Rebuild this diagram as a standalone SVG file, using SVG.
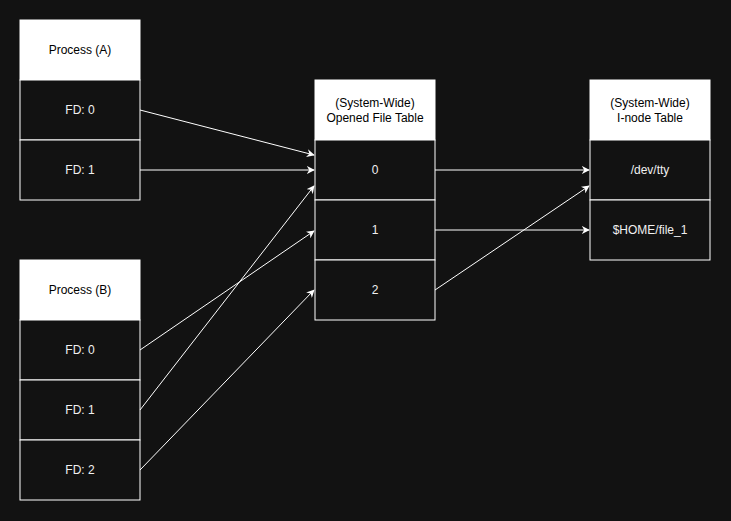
<svg xmlns="http://www.w3.org/2000/svg" width="731" height="521" viewBox="0 0 731 521">
<style>
.h{fill:#ffffff;stroke:#ffffff}
.r{fill:#121212;stroke:#ffffff;stroke-width:1}
.th{font-family:"Liberation Sans",Arial,sans-serif;font-size:12px;fill:#000;text-anchor:middle}
.tr{font-family:"Liberation Sans",Arial,sans-serif;font-size:12px;fill:#f0f0f0;text-anchor:middle}
.c line{stroke:#ffffff;stroke-width:1;marker-end:url(#a)}
</style>
<defs><marker id="a" viewBox="0 0 10 10" refX="9" refY="5" markerWidth="8" markerHeight="8" orient="auto" markerUnits="userSpaceOnUse"><path d="M0,0 L10,5 L0,10 L3,5 Z" fill="#fff"/></marker></defs>
<rect width="731" height="521" fill="#121212"/>
<g id="procA">
<rect class="h" x="20" y="20" width="120" height="60"/><text class="th" x="80" y="54">Process (A)</text>
<rect class="r" x="20" y="80" width="120" height="60"/><text class="tr" x="80" y="114">FD: 0</text>
<rect class="r" x="20" y="140" width="120" height="60"/><text class="tr" x="80" y="174">FD: 1</text>
</g>
<g id="procB">
<rect class="h" x="20" y="260" width="120" height="60"/><text class="th" x="80" y="294">Process (B)</text>
<rect class="r" x="20" y="320" width="120" height="60"/><text class="tr" x="80" y="354">FD: 0</text>
<rect class="r" x="20" y="380" width="120" height="60"/><text class="tr" x="80" y="414">FD: 1</text>
<rect class="r" x="20" y="440" width="120" height="60"/><text class="tr" x="80" y="474">FD: 2</text>
</g>
<g id="oft">
<rect class="h" x="315" y="80" width="120" height="60"/><text class="th" x="375" y="107">(System-Wide)</text><text class="th" x="375" y="122">Opened File Table</text>
<rect class="r" x="315" y="140" width="120" height="60"/><text class="tr" x="375" y="174">0</text>
<rect class="r" x="315" y="200" width="120" height="60"/><text class="tr" x="375" y="234">1</text>
<rect class="r" x="315" y="260" width="120" height="60"/><text class="tr" x="375" y="294">2</text>
</g>
<g id="inode">
<rect class="h" x="590" y="80" width="120" height="60"/><text class="th" x="650" y="107">(System-Wide)</text><text class="th" x="650" y="122">I-node Table</text>
<rect class="r" x="590" y="140" width="120" height="60"/><text class="tr" x="650" y="174">/dev/tty</text>
<rect class="r" x="590" y="200" width="120" height="60"/><text class="tr" x="650" y="234">$HOME/file_1</text>
</g>
<g class="c" id="connectors">
<line x1="140" y1="110" x2="314" y2="155"/>
<line x1="140" y1="170" x2="314" y2="170"/>
<line x1="140" y1="350" x2="314" y2="231"/>
<line x1="140" y1="410" x2="314" y2="186"/>
<line x1="140" y1="470" x2="314" y2="290"/>
<line x1="435" y1="170" x2="589" y2="170"/>
<line x1="435" y1="230" x2="589" y2="230"/>
<line x1="435" y1="290" x2="589" y2="186"/>
</g>
</svg>
